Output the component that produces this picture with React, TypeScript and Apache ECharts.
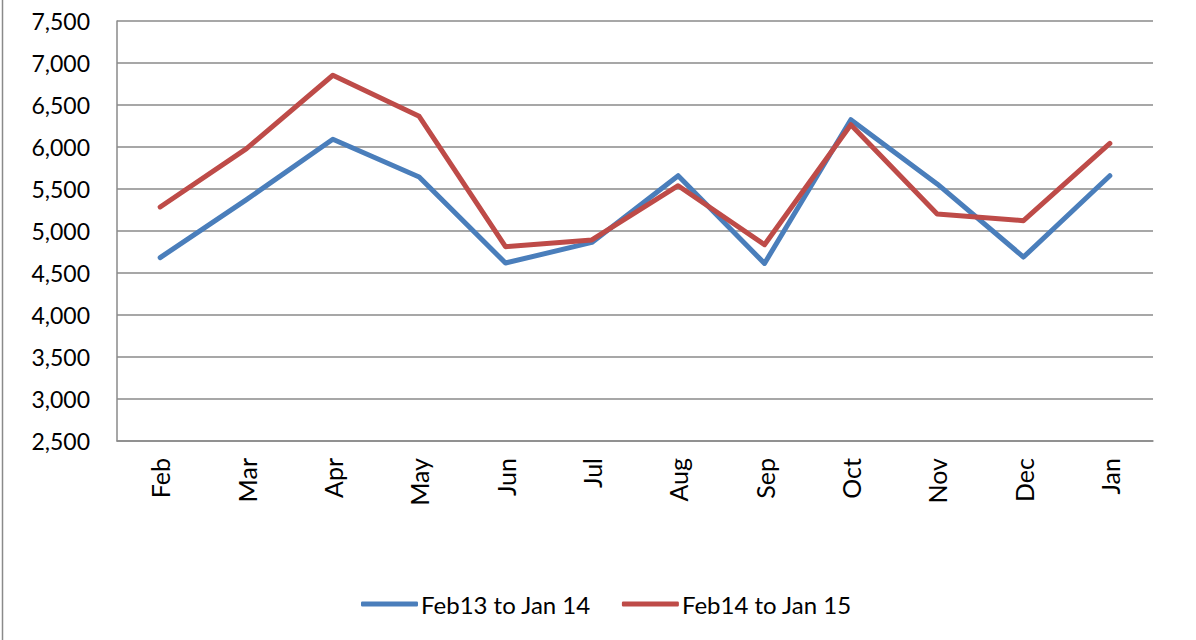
import React, { useEffect, useRef } from "react";
import * as echarts from "echarts";

const months = ["Feb", "Mar", "Apr", "May", "Jun", "Jul", "Aug", "Sep", "Oct", "Nov", "Dec", "Jan"];
const seriesNames = ["Feb13 to Jan 14", "Feb14 to Jan 15"];
const feb13ToJan14 = [4683, 5374, 6092, 5643, 4619, 4864, 5658, 4614, 6325, 5560, 4690, 5658];
const feb14ToJan15 = [5286, 5981, 6854, 6365, 4813, 4893, 5539, 4837, 6265, 5202, 5123, 6043];
const yMin = 2500;
const yMax = 7500;
const yStep = 500;

const FONT = "Lato, 'Open Sans', sans-serif";

export default function App() {
  const ref = useRef<HTMLDivElement>(null);
  useEffect(() => {
    if (!ref.current) return;
    const chart = echarts.init(ref.current, undefined, { renderer: "svg" });
    chart.setOption({
      animation: false,
      backgroundColor: "#ffffff",
      textStyle: { fontFamily: FONT },
      grid: { left: 117, right: 43, top: 21, height: 420, containLabel: false },
      graphic: [
        {
          type: "line",
          shape: { x1: 2.5, y1: 0, x2: 2.5, y2: 640 },
          style: { stroke: "#8a8a8a", lineWidth: 1.5 },
        },
      ],
      legend: {
        left: 356,
        top: 586,
        itemWidth: 57,
        itemHeight: 5,
        itemGap: 31,
        icon: "roundRect",
        textStyle: { fontFamily: FONT, fontSize: 24, color: "#000", lineHeight: 26, padding: [0, 0, 0, -2] },
        data: seriesNames,
      },
      xAxis: {
        type: "category",
        data: months,
        boundaryGap: true,
        axisLine: { show: true, lineStyle: { color: "#8a8a8a", width: 1.5 } },
        axisTick: { show: false },
        axisLabel: { rotate: 90, margin: 17, fontSize: 25, color: "#000", fontFamily: FONT },
        splitLine: { show: false },
      },
      yAxis: {
        type: "value",
        min: yMin,
        max: yMax,
        interval: yStep,
        axisLine: { show: true, lineStyle: { color: "#8a8a8a", width: 1.5 } },
        axisTick: { show: false },
        axisLabel: {
          margin: 27,
          fontSize: 23,
          color: "#000",
          fontFamily: FONT,
          formatter: (v: number) => v.toLocaleString("en-US"),
        },
        splitLine: { show: true, lineStyle: { color: "#8a8a8a", width: 1.5 } },
      },
      series: [
        {
          name: seriesNames[0],
          type: "line",
          data: feb13ToJan14,
          showSymbol: false,
          symbol: "none",
          color: "#4a7ebb",
          lineStyle: { color: "#4a7ebb", width: 5, cap: "round", join: "round" },
        },
        {
          name: seriesNames[1],
          type: "line",
          data: feb14ToJan15,
          showSymbol: false,
          symbol: "none",
          color: "#be4b48",
          lineStyle: { color: "#be4b48", width: 5, cap: "round", join: "round" },
        },
      ],
    });
    return () => chart.dispose();
  }, []);
  return <div ref={ref} style={{ width: 1196, height: 640, position: "absolute", left: 0, top: 0 }} />;
}
